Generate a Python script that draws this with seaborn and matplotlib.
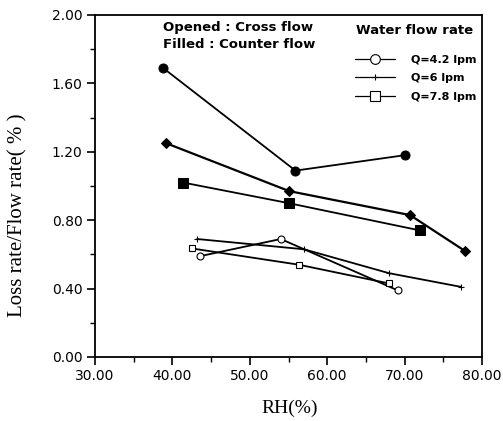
import matplotlib
matplotlib.use("Agg")
import matplotlib.pyplot as plt
from matplotlib.lines import Line2D
from matplotlib.ticker import MultipleLocator, FormatStrFormatter
import seaborn as sns
import pandas as pd

# Counter flow (filled markers)
rh_counter_42 = [38.8, 55.9, 70.0]
loss_counter_42 = [1.69, 1.09, 1.18]
rh_counter_6 = [39.2, 55.1, 70.7, 77.8]
loss_counter_6 = [1.25, 0.97, 0.83, 0.62]
rh_counter_78 = [41.4, 55.0, 72.0]
loss_counter_78 = [1.02, 0.90, 0.74]

# Cross flow (open markers)
rh_cross_42 = [43.6, 54.0, 69.1]
loss_cross_42 = [0.59, 0.69, 0.39]
rh_cross_6 = [43.2, 57.0, 68.0, 77.3]
loss_cross_6 = [0.69, 0.63, 0.49, 0.41]
rh_cross_78 = [42.5, 56.3, 68.0]
loss_cross_78 = [0.635, 0.54, 0.43]

legend_labels = ["Q=4.2 lpm", "Q=6 lpm", "Q=7.8 lpm"]
x_ticks = [30, 40, 50, 60, 70, 80]
y_ticks = [0.0, 0.4, 0.8, 1.2, 1.6, 2.0]

sns.set_style("ticks")
plt.rcParams["font.family"] = ["DejaVu Sans"]
plt.rcParams["text.color"] = "black"
plt.rcParams["axes.labelcolor"] = "black"

W, H = 503, 421
fig = plt.figure(figsize=(W / 100, H / 100), dpi=100)
ax = fig.add_axes([95 / W, 1 - 357 / H, (482 - 95) / W, (357 - 15) / H])

def frame(xs, ys, name):
    return pd.DataFrame({"rh": xs, "loss": ys, "series": name})

series = [
    (frame(rh_counter_42, loss_counter_42, "c42"), dict(marker="o", ms=6.5, mfc="black", mec="black", lw=1.3)),
    (frame(rh_counter_6, loss_counter_6, "c6"), dict(marker="D", ms=5, mfc="black", mec="black", lw=1.6)),
    (frame(rh_counter_78, loss_counter_78, "c78"), dict(marker="s", ms=6.5, mfc="black", mec="black", lw=1.3)),
    (frame(rh_cross_42, loss_cross_42, "x42"), dict(marker="o", ms=5, mfc="white", mec="black", mew=0.8, lw=1.3)),
    (frame(rh_cross_6, loss_cross_6, "x6"), dict(marker="+", ms=4, mec="black", mew=0.8, lw=1.3)),
    (frame(rh_cross_78, loss_cross_78, "x78"), dict(marker="s", ms=5, mfc="white", mec="black", mew=0.8, lw=1.3)),
]
for df, style in series:
    sns.lineplot(data=df, x="rh", y="loss", ax=ax, color="black", estimator=None,
                 sort=False, legend=False, **style)

ax.set_xlim(30, 80)
ax.set_ylim(0, 2.0)
ax.set_xticks(x_ticks)
ax.set_yticks(y_ticks)
ax.xaxis.set_minor_locator(MultipleLocator(5))
ax.yaxis.set_minor_locator(MultipleLocator(0.2))
ax.xaxis.set_major_formatter(FormatStrFormatter("%.2f"))
ax.yaxis.set_major_formatter(FormatStrFormatter("%.2f"))
ax.tick_params(axis="both", which="major", direction="out", length=6, width=1.2,
               labelsize=10, pad=3, color="black", labelcolor="black")
ax.tick_params(axis="both", which="minor", direction="out", length=3.5, width=1.0, color="black")
for sp in ax.spines.values():
    sp.set_visible(True)
    sp.set_linewidth(1.3)
    sp.set_color("black")
ax.set_xlabel("")
ax.set_ylabel("")

serif = ["Liberation Serif", "DejaVu Serif"]
fig.text(290 / W, 1 - 408 / H, "RH(%)", ha="center", va="center", fontsize=14, family=serif)
fig.text(18 / W, 1 - 215 / H, "Loss rate/Flow rate( % )", ha="center", va="center",
         rotation=90, fontsize=15, family=serif)

fig.text(163 / W, 1 - 27 / H, "Opened : Cross flow", ha="left", va="center", fontsize=9.5, fontweight="bold")
fig.text(163 / W, 1 - 45 / H, "Filled : Counter flow", ha="left", va="center", fontsize=9.5, fontweight="bold")
fig.text(415 / W, 1 - 31 / H, "Water flow rate", ha="center", va="center", fontsize=9.5, fontweight="bold")

handles = [
    Line2D([], [], color="black", lw=0.9, marker="o", ms=7, mfc="white", mec="black", mew=0.8),
    Line2D([], [], color="black", lw=0.9, marker="+", ms=4, mec="black", mew=0.8),
    Line2D([], [], color="black", lw=0.9, marker="s", ms=7, mfc="white", mec="black", mew=0.8),
]
fig.legend(handles, legend_labels, loc="upper left", bbox_to_anchor=(355 / W, 1 - 55 / H),
           frameon=False, handlelength=3.6, handletextpad=1.4,
           labelspacing=0.75, borderpad=0, borderaxespad=0,
           prop={"weight": "bold", "size": 8})

fig.savefig("out.png", dpi=100)
